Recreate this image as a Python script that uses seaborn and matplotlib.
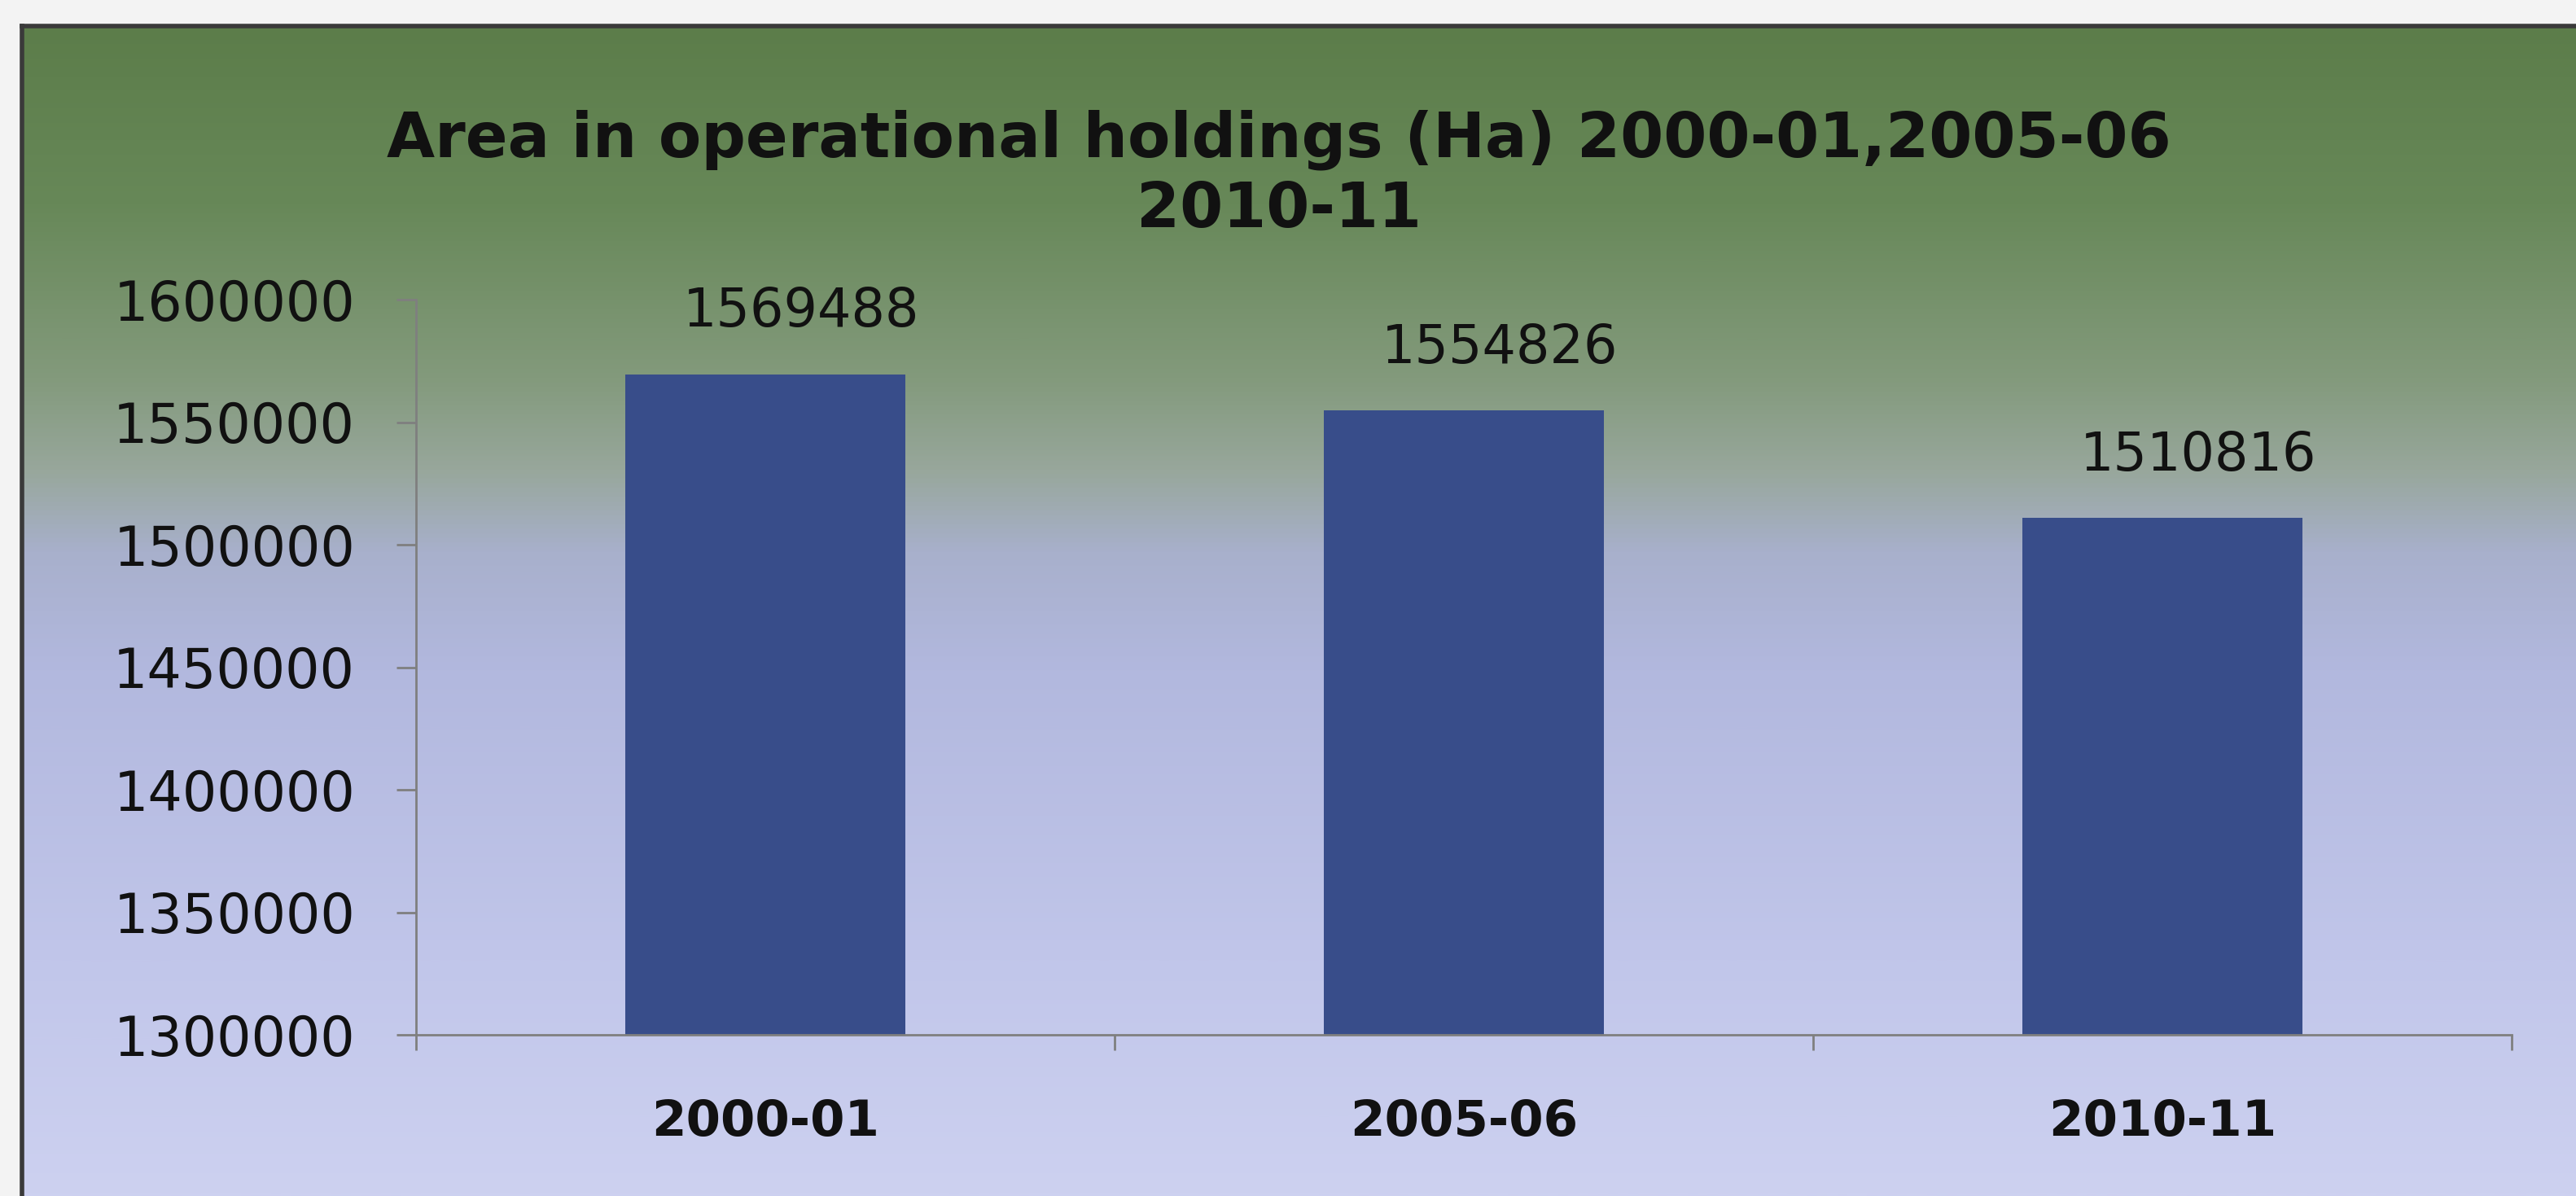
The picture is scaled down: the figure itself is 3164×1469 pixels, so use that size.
import matplotlib
matplotlib.use("Agg")
import matplotlib.pyplot as plt
import seaborn as sns
import pandas as pd
import numpy as np
from matplotlib.colors import LinearSegmentedColormap

# values
periods = ["2000-01", "2005-06", "2010-11"]
area_ha = [1569488, 1554826, 1510816]
y_ticks = [1300000, 1350000, 1400000, 1450000, 1500000, 1550000, 1600000]
title_lines = ["Area in operational holdings (Ha) 2000-01,2005-06", "2010-11"]

BAR_COLOR = "#384d8a"
AXIS_GRAY = "#7f7f7f"

df = pd.DataFrame({"period": periods, "area": area_ha})

sns.set_theme(style="white")
plt.rcParams["font.family"] = ["DejaVu Sans"]

W, H = 3164, 1469
fig = plt.figure(figsize=(W / 100, H / 100), dpi=100)
fig.patch.set_facecolor("#f3f3f3")

# green -> lavender gradient panel behind the chart (Excel style)
bg = fig.add_axes([27 / W, 0, 1 - 27 / W, 1 - 32 / H], zorder=0)
bg_cmap = LinearSegmentedColormap.from_list(
    "bg",
    [
        (0.00, "#5c7d4a"),
        (0.15, "#678858"),
        (0.30, "#839a7c"),
        (0.38, "#98a79c"),
        (0.45, "#a8b0cc"),
        (0.55, "#b2b8de"),
        (0.80, "#c1c6ea"),
        (1.00, "#cdd1f0"),
    ],
)
bg.imshow(np.linspace(0, 1, 512).reshape(-1, 1), aspect="auto", cmap=bg_cmap)
bg.set_xticks([])
bg.set_yticks([])
for side in ["right", "bottom"]:
    bg.spines[side].set_visible(False)
for side in ["left", "top"]:
    bg.spines[side].set_color("#3a3a3a")
    bg.spines[side].set_linewidth(4)

ax = fig.add_axes([511 / W, 1 - 1271 / H, (3085 - 511) / W, (1271 - 368) / H], zorder=1)
ax.patch.set_alpha(0)

sns.barplot(data=df, x="period", y="area", color=BAR_COLOR, width=0.4,
            saturation=1, linewidth=0, ax=ax)

ax.set_ylim(y_ticks[0], y_ticks[-1])
ax.set_xlim(-0.5, len(periods) - 0.5)
ax.set_xlabel("")
ax.set_ylabel("")

ax.set_yticks(y_ticks)
ax.set_yticklabels([str(t) for t in y_ticks])
ax.tick_params(axis="y", direction="out", length=17, width=2, color=AXIS_GRAY,
               pad=37, labelsize=48, labelcolor="#111111", left=True)

ax.set_xticks(range(len(periods)))
ax.set_xticklabels(periods, fontweight="bold")
ax.tick_params(axis="x", length=0, pad=56, labelsize=44, labelcolor="#111111")
ax.set_xticks(np.arange(-0.5, len(periods)), minor=True)
ax.tick_params(axis="x", which="minor", direction="out", length=14, width=2,
               color=AXIS_GRAY, bottom=True)

sns.despine(ax=ax)
for side in ["left", "bottom"]:
    ax.spines[side].set_color(AXIS_GRAY)
    ax.spines[side].set_linewidth(2)

for bar, val in zip(ax.patches, area_ha):
    ax.annotate(str(val), (bar.get_x() + bar.get_width() / 2, bar.get_height()),
                xytext=(32, 55), textcoords="offset points", ha="center",
                va="center", fontsize=47, color="#111111")

fig.text(1571 / W, 1 - 172 / H, title_lines[0], ha="center", va="center",
         fontsize=55, fontweight="bold", color="#111111")
fig.text(1571 / W, 1 - 258 / H, title_lines[1], ha="center", va="center",
         fontsize=55, fontweight="bold", color="#111111")

fig.savefig("out.png", dpi=100, facecolor=fig.get_facecolor())
